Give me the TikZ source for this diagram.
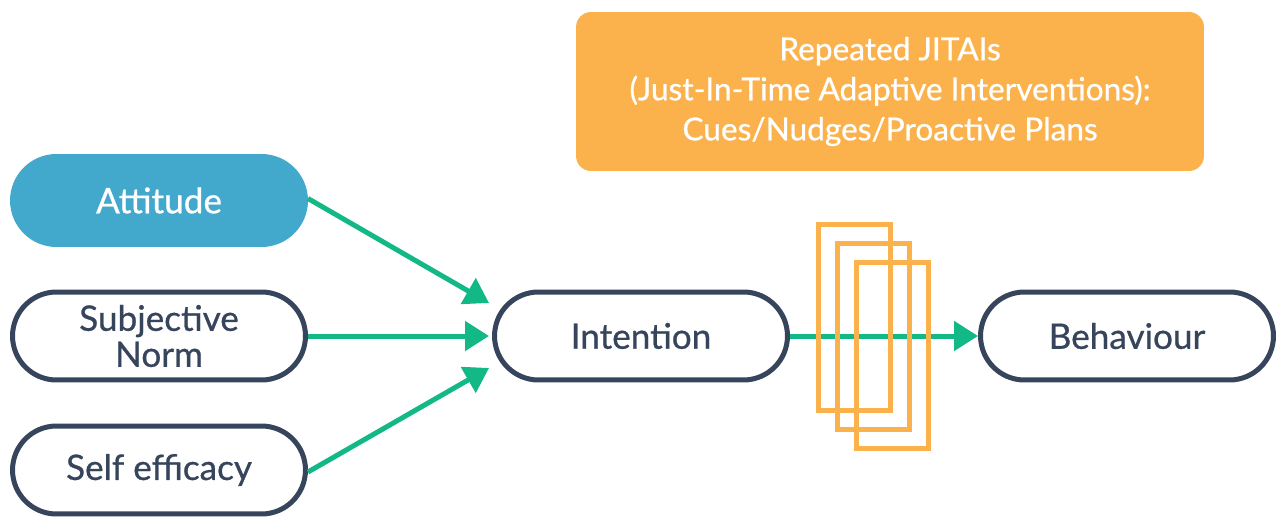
\documentclass[tikz,border=0pt]{standalone}
\usepackage{fontspec}
\setmainfont{Lato}[FakeBold=0.7]
\usetikzlibrary{arrows.meta}

\definecolor{navy}{HTML}{36445C}
\definecolor{skyblue}{HTML}{42A8CC}
\definecolor{jade}{HTML}{12B886}
\definecolor{amber}{HTML}{FBB24C}

\tikzset{
  pill/.style={draw=navy,line width=0.1cm,fill=white,rounded corners=0.88cm,
    minimum width=5.86cm,minimum height=1.76cm,align=center,text=navy,
    font=\fontsize{20}{20.5}\selectfont},
  link/.style={jade,line width=0.1cm,-{Triangle[length=0.48cm,width=0.58cm]}},
}

\begin{document}
\begin{tikzpicture}[x=0.02cm,y=-0.02cm]
\useasboundingbox (0,0) rectangle (1277,517);
\node[fill=amber,rounded corners=0.3cm,minimum width=12.56cm,minimum height=3.18cm,
  align=center,text=white,font=\fontsize{18}{22.8}\selectfont] (jit) at (890,91.5)
  {Repeated JITAIs\\(Just-In-Time Adaptive Interventions):\\Cues/Nudges/Proactive Plans};
\node[pill,draw=skyblue,fill=skyblue,text=white] (att) at (159,200.5) {Attitude};
\node[pill] (sn) at (159,336) {Subjective\\Norm};
\node[pill] (se) at (159,470) {Self efficacy};
\node[pill] (int) at (641,336) {Intention};
\node[pill] (beh) at (1127,336) {Behaviour};
\coordinate (t1) at (489,303); \coordinate (t2) at (489,336); \coordinate (t3) at (489,368);
\draw[link] (att.east) ++(0,-2) -- (t1);
\draw[link] (sn.east) -- (t2);
\draw[link] (se.east) ++(0,2) -- (t3);
\draw[link] (int.east) -- (beh.west);
\foreach \i in {0,1,2}
  \draw[amber,line width=0.1cm] (818.5+19*\i,224.5+19*\i) rectangle ++(72,186);
\end{tikzpicture}
\end{document}
